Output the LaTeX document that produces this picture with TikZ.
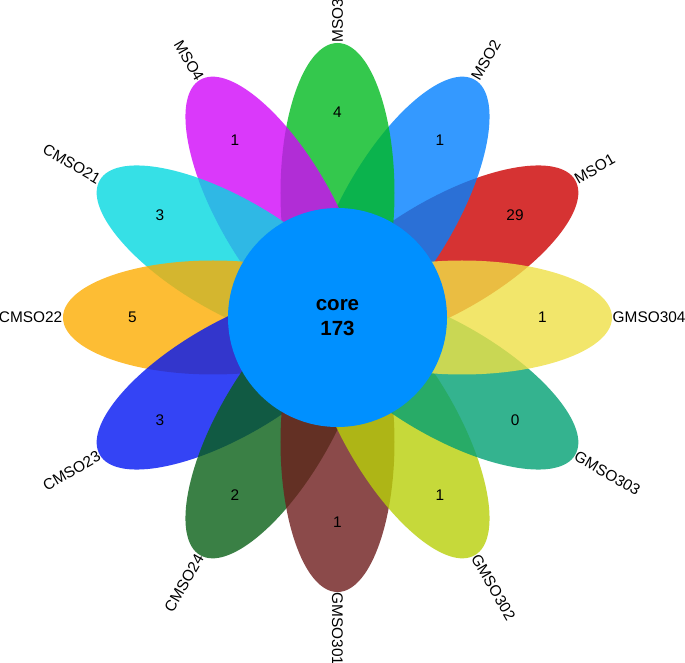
\documentclass[tikz,border=0pt]{standalone}
\usepackage{fontspec}
\setmainfont{Liberation Sans}
\usepackage{tikz}

\definecolor{colMSOone}{RGB}{204,0,0}
\definecolor{colMSOtwo}{RGB}{1,128,255}
\definecolor{colMSOthree}{RGB}{1,186,33}
\definecolor{colMSOfour}{RGB}{209,7,249}
\definecolor{colCMSOtwoone}{RGB}{4,216,224}
\definecolor{colCMSOtwotwo}{RGB}{252,172,1}
\definecolor{colCMSOtwothree}{RGB}{1,21,243}
\definecolor{colCMSOtwofour}{RGB}{9,96,23}
\definecolor{colGMSOone}{RGB}{110,29,29}
\definecolor{colGMSOtwo}{RGB}{184,208,9}
\definecolor{colGMSOthree}{RGB}{1,160,115}
\definecolor{colGMSOfour}{RGB}{239,224,70}
\definecolor{coreblue}{RGB}{0,144,255}

\tikzset{
  petal/.style={fill opacity=0.8},
  count/.style={font=\fontsize{15.4}{18}\selectfont, inner sep=0pt},
  setname/.style={font=\fontsize{15.4}{18}\selectfont, inner sep=0.5pt},
  corecircle/.style={circle, fill=coreblue, minimum size=219pt, inner sep=0pt,
    align=center, font=\bfseries\fontsize{20.5}{24.6}\selectfont}
}

\begin{document}
\begin{tikzpicture}[x=1pt, y=1pt]
	%\draw[help lines] (-337.5,-345.5) grid (347.5,317.5);
	\useasboundingbox (-337.5,-345.5) rectangle (347.5,317.5);
	\foreach \a/\c in {30/colMSOone, 60/colMSOtwo, 90/colMSOthree, 120/colMSOfour,
	  150/colCMSOtwoone, 180/colCMSOtwotwo, 210/colCMSOtwothree, 240/colCMSOtwofour,
	  270/colGMSOone, 300/colGMSOtwo, 330/colGMSOthree, 360/colGMSOfour}
	  \fill[petal, fill=\c, rotate=\a] (124.5,0) ellipse [x radius=150pt, y radius=57pt];
	\foreach \a/\n in {30/29, 60/1, 90/4, 120/1, 150/3, 180/5, 210/3, 240/2,
	  270/1, 300/1, 330/0, 360/1}
	  \node[count] (num\a) at (\a:205) {\n};
	% names on the right side read outwards, on the left side inwards
	\foreach \a/\t in {30/MSO1, 60/MSO2, 90/MSO3, 270/GMSO301, 300/GMSO302,
	  330/GMSO303, 360/GMSO304}
	  \node[setname, anchor=west, rotate=\a] (name\a) at (\a:274.5) {\t};
	\foreach \a/\t in {120/MSO4, 150/CMSO21, 180/CMSO22, 210/CMSO23, 240/CMSO24}
	  \node[setname, anchor=east, rotate=\a-180] (name\a) at (\a:274.5) {\t};
	\node[corecircle] (core) at (0,0) {core\\173};
\end{tikzpicture}
\end{document}
